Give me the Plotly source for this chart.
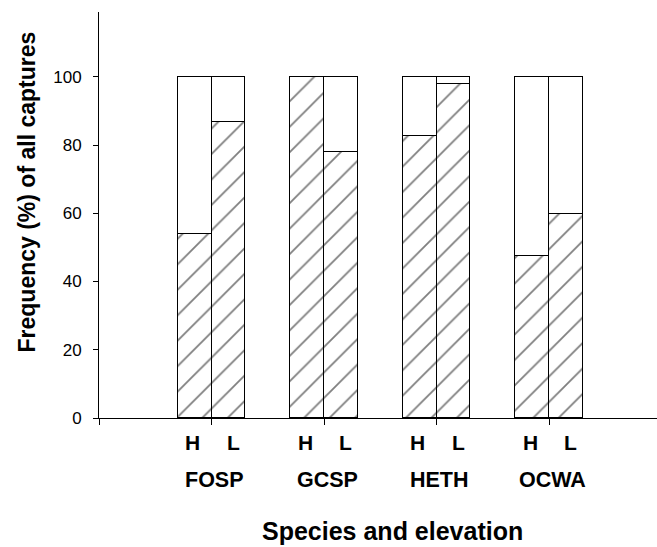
import plotly.graph_objects as go

species = ["FOSP", "GCSP", "HETH", "OCWA"]
elevations = ["H", "L"]
hatched_H = [54.0, 100.0, 82.6, 47.4]
hatched_L = [86.7, 78.0, 97.9, 59.7]
y_ticks = [0, 20, 40, 60, 80, 100]
x_title = "Species and elevation"
y_title = "Frequency (%) of all captures"

FONT = "Liberation Sans, Arial, sans-serif"
group_pos = [i + 1 for i in range(len(species))]
offset = 0.15
bw = 0.3

xs, hv, wv = [], [], []
for g, h, l in zip(group_pos, hatched_H, hatched_L):
    xs += [g - offset, g + offset]
    hv += [h, l]
    wv += [100 - h, 100 - l]

fig = go.Figure()
fig.add_trace(go.Bar(
    x=xs, y=hv, width=bw,
    marker=dict(color="white",
                line=dict(color="black", width=1),
                pattern=dict(shape="/", fgcolor="black", bgcolor="white",
                             size=18, solidity=0.1)),
    showlegend=False, hoverinfo="skip"))
fig.add_trace(go.Bar(
    x=xs, y=wv, width=bw,
    marker=dict(color="white", line=dict(color="black", width=1)),
    showlegend=False, hoverinfo="skip"))

PL, PT, PW, PH = 99, 12, 558, 406


def py(px):
    return (PT + PH - px) / PH


def pxx(px):
    return (px - PL) / PW


annotations = []
for g, sp in zip(group_pos, species):
    for lab, dx in zip(elevations, (-0.165, 0.195)):
        annotations.append(dict(x=g + dx, y=py(442.5), xref="x", yref="paper",
                                xanchor="center", yanchor="middle", text=f"<b>{lab}</b>",
                                showarrow=False, font=dict(family=FONT, size=21, color="black")))
    annotations.append(dict(x=g + 0.03, y=py(479.5), xref="x", yref="paper",
                            xanchor="center", yanchor="middle", text=f"<b>{sp}</b>",
                            showarrow=False, font=dict(family=FONT, size=21.5, color="black")))
annotations.append(dict(x=pxx(392), y=py(531), xref="paper", yref="paper",
                        xanchor="center", yanchor="middle",
                        text=f"<b>{x_title}</b>", showarrow=False,
                        font=dict(family=FONT, size=25, color="black")))
annotations.append(dict(x=pxx(26), y=py(192.5), xref="paper", yref="paper",
                        xanchor="center", yanchor="middle",
                        text=f"<b>{y_title}</b>", showarrow=False, textangle=-90,
                        font=dict(family=FONT, size=23, color="black")))

fig.update_layout(
    width=657, height=547,
    margin=dict(l=PL, r=0, t=PT, b=547 - PT - PH),
    paper_bgcolor="white", plot_bgcolor="white",
    barmode="stack",
    bargap=0,
    annotations=annotations,
    xaxis=dict(range=[0, 4.96], showgrid=False, zeroline=False,
               showline=True, linecolor="black", linewidth=1,
               tickvals=[0, 1, 2, 3, 4, 5], ticktext=[""] * 6,
               ticks="outside", ticklen=6, tickcolor="black", tickwidth=1),
    yaxis=dict(range=[0, 119], showgrid=False, zeroline=False,
               showline=True, linecolor="black", linewidth=1,
               tickvals=y_ticks, ticks="outside", ticklen=5,
               tickcolor="black", tickwidth=1, ticklabelstandoff=8,
               tickfont=dict(family=FONT, size=17, color="black")),
)

fig.write_html("out.html")
